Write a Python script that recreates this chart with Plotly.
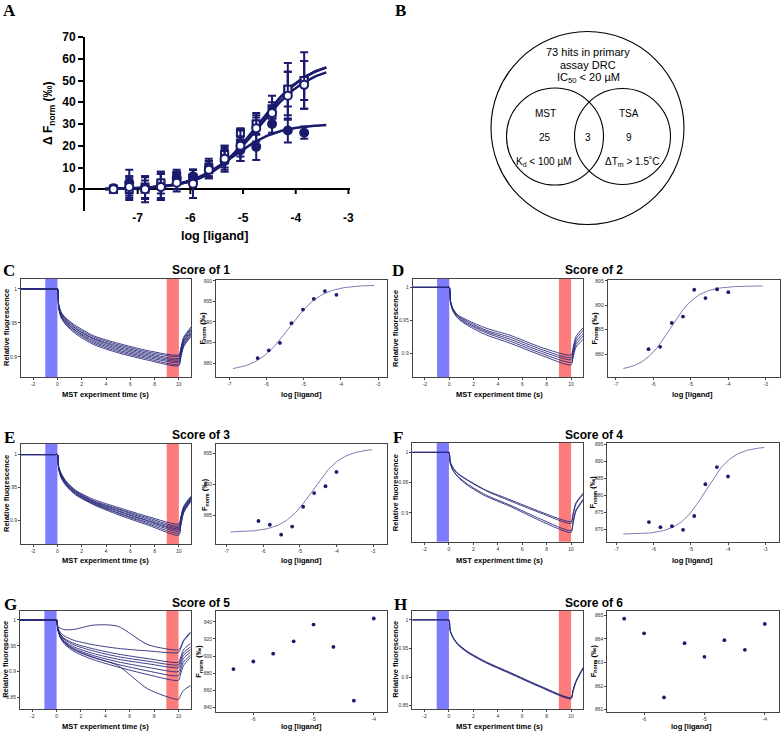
import numpy as np
import plotly.graph_objects as go

W, H = 781, 733
NAVY = "#1b1b6e"
TRACE = "#2a2a7c"
FITC = "#6c6cac"
BLUE_BAND = "#7c7cfc"
RED_BAND = "#fc7c7c"

# ---------------- Panel A data ----------------
A_LOGC = [-7.46, -7.16, -6.86, -6.56, -6.26, -5.95, -5.65, -5.35, -5.05, -4.75, -4.45, -4.15, -3.84]
A_FC = [0.5, 3.0, 0.5, 1.0, 5.0, 6.0, 9.0, 13.0, 18.0, 19.5, 30.0, 27.0, 26.0]
A_FC_ERR = [1.0, 6.0, 5.0, 6.0, 3.0, 3.0, 4.0, 5.0, 5.0, 6.0, 4.0, 5.5, 2.8]
A_OC = [0.0, 1.0, 0.0, 1.0, 3.0, 2.5, 9.0, 14.0, 20.0, 28.0, 35.0, 43.0, 48.0]
A_OC_ERR = [1.0, 5.0, 4.0, 6.0, 4.0, 6.5, 4.0, 5.0, 7.0, 6.0, 5.0, 11.0, 11.0]
A_FS = [0.0, 2.0, 0.0, 2.0, 6.0, 5.0, 10.0, 15.0, 21.0, 30.0, 37.0, 46.0, 50.0]
A_FS_ERR = [1.0, 4.0, 6.0, 6.0, 3.0, 4.0, 4.0, 5.0, 6.0, 5.0, 6.0, 12.0, 13.0]
A_OS = [0.0, 0.0, 1.0, 3.0, 4.0, 5.0, 9.0, 16.0, 26.0, 30.0, 34.0, 46.0, 50.0]
A_OS_ERR = [1.0, 5.0, 5.0, 5.0, 4.0, 4.0, 3.0, 4.0, 2.0, 3.0, 4.0, 8.0, 9.0]
# fitted dose-response parameters (bottom, top, logEC50, hill)
A_FIT_FC = (0.0, 30.0, -5.2, 1.0)
A_FIT_OC = (0.0, 57.5, -4.7, 0.9)
A_FIT_FS = (0.0, 60.0, -4.7, 0.9)
A_FIT_OS = (0.0, 59.5, -4.72, 0.92)
A_FIT_RANGE = (-7.62, -3.42)
A_XTICKS = [-7, -6, -5, -4, -3]
A_YTICKS = [0, 10, 20, 30, 40, 50, 60, 70]

# ---------------- Panel B data ----------------
B_TOTAL = 73
B_MST_ONLY = 25
B_BOTH = 3
B_TSA_ONLY = 9

# ---------------- MST traces (time in s, relative fluorescence) ----------------
MST_T = [-3, -0.2, 0, 0.1, 0.3, 0.7, 1.5, 3, 5, 7.5, 10, 10.15, 10.4, 11]
MST_XTICKS = [-2, 0, 2, 4, 6, 8, 10]

C_TRACES = [
    [1, 1, 1, 0.978, 0.966, 0.957, 0.946, 0.931, 0.920, 0.909, 0.903, 0.912, 0.929, 0.944],
    [1, 1, 1, 0.977, 0.965, 0.956, 0.944, 0.929, 0.918, 0.907, 0.901, 0.910, 0.927, 0.942],
    [1, 1, 1, 0.976, 0.964, 0.954, 0.942, 0.927, 0.916, 0.905, 0.898, 0.908, 0.925, 0.940],
    [1, 1, 1, 0.976, 0.963, 0.953, 0.941, 0.926, 0.914, 0.903, 0.896, 0.906, 0.923, 0.938],
    [1, 1, 1, 0.975, 0.961, 0.951, 0.939, 0.924, 0.912, 0.901, 0.894, 0.904, 0.921, 0.936],
    [1, 1, 1, 0.974, 0.960, 0.950, 0.938, 0.922, 0.910, 0.899, 0.892, 0.902, 0.919, 0.934],
    [1, 1, 1, 0.973, 0.959, 0.948, 0.936, 0.920, 0.908, 0.897, 0.889, 0.900, 0.917, 0.932],
    [1, 1, 1, 0.972, 0.958, 0.947, 0.934, 0.918, 0.906, 0.895, 0.887, 0.898, 0.915, 0.930],
]
D_TRACES = [
    [1, 1, 1, 0.980, 0.968, 0.958, 0.950, 0.938, 0.927, 0.909, 0.897, 0.907, 0.925, 0.939],
    [1, 1, 1, 0.979, 0.967, 0.957, 0.948, 0.935, 0.924, 0.906, 0.893, 0.903, 0.921, 0.935],
    [1, 1, 1, 0.978, 0.966, 0.956, 0.946, 0.933, 0.921, 0.903, 0.890, 0.900, 0.917, 0.930],
    [1, 1, 1, 0.978, 0.965, 0.954, 0.944, 0.931, 0.918, 0.900, 0.886, 0.896, 0.913, 0.926],
    [1, 1, 1, 0.977, 0.964, 0.953, 0.942, 0.928, 0.915, 0.897, 0.882, 0.892, 0.909, 0.921],
]
E_TRACES = [
    [1, 1, 1, 0.982, 0.972, 0.960, 0.946, 0.932, 0.920, 0.906, 0.895, 0.905, 0.922, 0.937],
    [1, 1, 1, 0.981, 0.971, 0.959, 0.945, 0.930, 0.918, 0.904, 0.892, 0.903, 0.920, 0.936],
    [1, 1, 1, 0.981, 0.970, 0.958, 0.944, 0.929, 0.917, 0.902, 0.890, 0.901, 0.919, 0.935],
    [1, 1, 1, 0.980, 0.969, 0.957, 0.943, 0.928, 0.915, 0.900, 0.888, 0.899, 0.918, 0.934],
    [1, 1, 1, 0.980, 0.968, 0.956, 0.942, 0.927, 0.914, 0.899, 0.886, 0.897, 0.916, 0.933],
    [1, 1, 1, 0.979, 0.967, 0.955, 0.941, 0.926, 0.912, 0.897, 0.884, 0.895, 0.915, 0.932],
    [1, 1, 1, 0.979, 0.966, 0.954, 0.940, 0.925, 0.911, 0.895, 0.881, 0.893, 0.913, 0.931],
    [1, 1, 1, 0.978, 0.965, 0.953, 0.939, 0.924, 0.909, 0.893, 0.878, 0.891, 0.912, 0.929],
]
F_TRACES = [
    [1, 1, 1, 0.985, 0.976, 0.966, 0.955, 0.938, 0.922, 0.902, 0.886, 0.898, 0.917, 0.933],
    [1, 1, 1, 0.985, 0.975, 0.965, 0.954, 0.937, 0.920, 0.900, 0.883, 0.895, 0.915, 0.931],
    [1, 1, 1, 0.983, 0.972, 0.961, 0.948, 0.930, 0.913, 0.890, 0.871, 0.884, 0.905, 0.923],
    [1, 1, 1, 0.983, 0.971, 0.960, 0.946, 0.928, 0.911, 0.887, 0.868, 0.881, 0.903, 0.921],
]
G_TRACES = [
    [1, 1, 1, 0.988, 0.984, 0.981, 0.982, 0.990, 0.988, 0.952, 0.942, 0.946, 0.960, 0.977],
    [1, 1, 1, 0.985, 0.976, 0.968, 0.960, 0.952, 0.945, 0.940, 0.937, 0.943, 0.958, 0.975],
    [1, 1, 1, 0.984, 0.973, 0.963, 0.954, 0.944, 0.934, 0.925, 0.918, 0.926, 0.942, 0.955],
    [1, 1, 1, 0.984, 0.972, 0.961, 0.951, 0.940, 0.929, 0.920, 0.913, 0.921, 0.936, 0.948],
    [1, 1, 1, 0.983, 0.970, 0.958, 0.947, 0.935, 0.924, 0.915, 0.908, 0.916, 0.931, 0.943],
    [1, 1, 1, 0.982, 0.968, 0.956, 0.944, 0.931, 0.919, 0.908, 0.900, 0.909, 0.925, 0.938],
    [1, 1, 1, 0.982, 0.967, 0.954, 0.941, 0.927, 0.914, 0.901, 0.892, 0.901, 0.918, 0.932],
    [1, 1, 1, 0.981, 0.966, 0.952, 0.938, 0.923, 0.909, 0.894, 0.883, 0.893, 0.911, 0.928],
    [1, 1, 1, 0.982, 0.968, 0.955, 0.942, 0.928, 0.912, 0.866, 0.846, 0.853, 0.863, 0.873],
]
H_TRACES = [
    [1, 1, 1, 0.982, 0.971, 0.959, 0.945, 0.927, 0.908, 0.884, 0.864, 0.876, 0.893, 0.917],
    [1, 1, 1, 0.981, 0.970, 0.958, 0.944, 0.926, 0.907, 0.883, 0.863, 0.875, 0.892, 0.916],
    [1, 1, 1, 0.981, 0.970, 0.957, 0.943, 0.925, 0.906, 0.882, 0.862, 0.874, 0.891, 0.915],
]

# ---------------- Dose-response (F_norm) ----------------
LOGC_C = [-6.24, -5.94, -5.64, -5.33, -5.02, -4.73, -4.43, -4.12]
FNORM_C = [881.2, 883.1, 884.9, 889.7, 893.0, 895.6, 897.5, 896.6]
FIT_C = (878.0, 899.0, -5.4, 1.0)
FITRANGE_C = (-6.9, -3.1)

LOGC_D = [-6.13, -5.82, -5.51, -5.21, -4.91, -4.61, -4.30, -4.00]
FNORM_D = [881.0, 881.5, 886.4, 887.7, 893.2, 891.5, 893.3, 892.7]
FIT_D = (876.5, 894.0, -5.55, 1.2)
FITRANGE_D = (-6.8, -3.08)

LOGC_E = [-6.13, -5.82, -5.51, -5.21, -4.91, -4.61, -4.30, -4.00]
FNORM_E = [884.1, 883.5, 881.9, 883.2, 886.4, 888.6, 889.7, 892.0]
FIT_E = (882.3, 895.8, -4.65, 1.1)
FITRANGE_E = (-6.89, -3.03)

LOGC_F = [-6.13, -5.82, -5.51, -5.21, -4.91, -4.61, -4.30, -4.00]
FNORM_F = [872.1, 870.6, 870.9, 869.8, 873.9, 883.3, 888.4, 885.6]
FIT_F = (868.5, 894.5, -4.6, 1.2)
FITRANGE_F = (-6.82, -3.02)

LOGC_G = [-6.33, -6.0, -5.67, -5.33, -5.0, -4.67, -4.33, -4.0]
FNORM_G = [884.7, 893.6, 902.7, 917.2, 936.8, 910.6, 847.8, 943.9]

LOGC_H = [-6.33, -6.0, -5.67, -5.33, -5.0, -4.67, -4.33, -4.0]
FNORM_H = [864.86, 864.24, 861.52, 863.82, 863.24, 863.95, 863.54, 864.64]


def hill(x, p):
    b, t, ec, h = p
    return b + (t - b) / (1.0 + 10.0 ** ((ec - x) * h))


def dx(l, r):
    return [l / W, r / W]


def dy(t, b):
    return [1 - b / H, 1 - t / H]


def px(x):
    return x / W


def py(y):
    return 1 - y / H


def hyph(vals):
    return [("-" + f"{abs(v):g}") if v < 0 else f"{v:g}" for v in vals]


fig = go.Figure()
layout = dict(width=W, height=H, margin=dict(l=0, r=0, t=0, b=0, pad=0, autoexpand=False),
              template="none",
              paper_bgcolor="white", plot_bgcolor="white", showlegend=False,
              font=dict(family="Liberation Sans", color="black"))
shapes = []
annotations = []


def ann(x, y, text, size, angle=0, color="black", family="Liberation Sans", xanchor="center"):
    annotations.append(dict(x=px(x), y=py(y), xref="paper", yref="paper", text=text,
                            showarrow=False, textangle=angle, xanchor=xanchor, yanchor="middle",
                            font=dict(size=size, color=color, family=family)))


# ---------------- Panel A ----------------
layout["xaxis"] = dict(domain=dx(85, 350), range=[-8, -2.97], anchor="y", tickvals=A_XTICKS,
                       ticktext=hyph(A_XTICKS),
                       showline=False, ticks="", showgrid=False, zeroline=False, automargin=False,
                       tickfont=dict(size=12, family="Liberation Sans", color="black", weight="bold"),
                       ticklabelstandoff=-2)
layout["yaxis"] = dict(domain=dy(37, 211), range=[-10, 70], anchor="x", tickvals=A_YTICKS,
                       showline=True, linecolor="black", linewidth=2, ticks="outside", ticklen=5,
                       tickwidth=2, tickcolor="black", showgrid=False, zeroline=True, automargin=False,
                       zerolinecolor="black", zerolinewidth=2,
                       tickfont=dict(size=12, family="Liberation Sans", color="black", weight="bold"))
for v in A_XTICKS:
    shapes.append(dict(type="line", xref="x", yref="y", x0=v, x1=v, y0=0, y1=-2.2,
                       line=dict(color="black", width=2)))

xa = np.linspace(A_FIT_RANGE[0], A_FIT_RANGE[1], 150)
for p in [A_FIT_FC, A_FIT_OC, A_FIT_FS, A_FIT_OS]:
    fig.add_trace(go.Scatter(x=xa, y=hill(xa, p), mode="lines", xaxis="x", yaxis="y",
                             line=dict(color=NAVY, width=2.5), hoverinfo="skip"))
series_A = [
    (A_FS, A_FS_ERR, "square", NAVY),
    (A_OS, A_OS_ERR, "square", "white"),
    (A_FC, A_FC_ERR, "circle", NAVY),
    (A_OC, A_OC_ERR, "circle", "white"),
]
for vals, err, sym, fill in series_A:
    fig.add_trace(go.Scatter(x=A_LOGC, y=vals, mode="markers", xaxis="x", yaxis="y",
                             marker=dict(symbol=sym, size=7 if sym == "square" else 8, color=fill,
                                         line=dict(color=NAVY, width=2)),
                             error_y=dict(type="data", array=err, color=NAVY, thickness=2, width=4)))
ann(9, 11, "<b>A</b>", 17, family="Liberation Serif")
ann(49, 113, "<b>Δ F<sub>norm</sub> (‰)</b>", 12, angle=-90)
ann(215, 236, "<b>log [ligand]</b>", 12.5)

# ---------------- Panel B (Venn) ----------------
ann(400, 11, "<b>B</b>", 17, family="Liberation Serif")
for cx, cy, r in [(587.5, 128, 96.5), (555, 136.5, 48.5), (622.5, 136.5, 48)]:
    shapes.append(dict(type="circle", xref="paper", yref="paper",
                       x0=px(cx - r), x1=px(cx + r), y0=py(cy + r), y1=py(cy - r),
                       line=dict(color="black", width=1.1)))
ann(588, 52, f"{B_TOTAL} hits in primary", 11)
ann(588, 65, "assay DRC", 11)
ann(588, 78, "IC<sub>50</sub> &lt; 20 µM", 11)
ann(545, 114, "MST", 10)
ann(545, 137, str(B_MST_ONLY), 10)
ann(544, 162, "K<sub>d</sub> &lt; 100 µM", 10)
ann(588, 137, str(B_BOTH), 10)
ann(629, 114, "TSA", 10)
ann(629, 137, str(B_TSA_ONLY), 10)
ann(632, 162, "ΔT<sub>m</sub> &gt; 1.5˚C", 10)

# ---------------- Small panels ----------------
small_ax = dict(showline=True, linecolor="#444", linewidth=1, mirror=True, ticks="outside",
                ticklen=2, tickwidth=0.6, tickcolor="#444", showgrid=False, zeroline=False,
                automargin=False,
                tickfont=dict(size=5, color="#333", family="Liberation Sans"))

panels = [
    dict(L="C", score=1, traces=C_TRACES, lrect=(21, 279, 191, 377), lyr=[0.8704, 1.0146], lyt=[0.9, 0.95, 1],
         rrect=(216, 280, 387, 377), rxr=[-7.36, -2.76], ryr=[876.6, 900.2], ryt=[880, 885, 890, 895, 900],
         rxt=[-7, -6, -5, -4, -3], logc=LOGC_C, fn=FNORM_C, fit=FIT_C, fr=FITRANGE_C,
         lp=(9, 271), tp=(201, 270), ylx=(6, 203), xty=394, xtx=(105, 301.7)),
    dict(L="D", score=2, traces=D_TRACES, lrect=(412.7, 279, 583.3, 377), lyr=[0.8636, 1.0127], lyt=[0.9, 0.95, 1],
         rrect=(607.7, 280, 780, 377), rxr=[-7.22, -2.62], ryr=[875.3, 895.2], ryt=[880, 885, 890, 895],
         rxt=[-7, -6, -5, -4, -3], logc=LOGC_D, fn=FNORM_D, fit=FIT_D, fr=FITRANGE_D,
         lp=(398, 271), tp=(594, 270), ylx=(395, 595), xty=394, xtx=(499, 692.3)),
    dict(L="E", score=3, traces=E_TRACES, lrect=(21, 444, 191, 544), lyr=[0.8647, 1.016], lyt=[0.9, 0.95, 1],
         rrect=(216, 444, 387, 544), rxr=[-7.29, -2.62], ryr=[880.4, 896.5], ryt=[885, 890, 895],
         rxt=[-7, -6, -5, -4, -3], logc=LOGC_E, fn=FNORM_E, fit=FIT_E, fr=FITRANGE_E,
         lp=(9, 437), tp=(201, 435), ylx=(6, 205), xty=560, xtx=(105.3, 301)),
    dict(L="F", score=4, traces=F_TRACES, lrect=(412.3, 442.7, 583.3, 541.7), lyr=[0.8526, 1.016], lyt=[0.9, 0.95, 1],
         rrect=(607.3, 442.7, 779.3, 541.7), rxr=[-7.25, -2.62], ryr=[866.3, 895.6],
         ryt=[870, 875, 880, 885, 890, 895],
         rxt=[-7, -6, -5, -4, -3], logc=LOGC_F, fn=FNORM_F, fit=FIT_F, fr=FITRANGE_F,
         lp=(398, 437), tp=(594, 435), ylx=(395, 593.3), xty=560, xtx=(499, 692.3)),
    dict(L="G", score=5, traces=G_TRACES, lrect=(20, 610.7, 190.7, 709), lyr=[0.8273, 1.018],
         lyt=[0.85, 0.9, 0.95, 1],
         rrect=(216, 610.7, 387, 712), rxr=[-6.62, -3.78], ryr=[834.5, 953], ryt=[840, 860, 880, 900, 920, 940],
         rxt=[-6, -5, -4], logc=LOGC_G, fn=FNORM_G, fit=None, fr=None,
         lp=(10, 604), tp=(201, 603), ylx=(6, 199.3), xty=726.7, xtx=(105, 301.2)),
    dict(L="H", score=6, traces=H_TRACES, lrect=(412.3, 610.7, 583.3, 709), lyr=[0.844, 1.016],
         lyt=[0.85, 0.9, 0.95, 1],
         rrect=(607.3, 610.7, 779.3, 712), rxr=[-6.61, -3.76], ryr=[860.9, 865.2], ryt=[861, 862, 863, 864, 865],
         rxt=[-6, -5, -4], logc=LOGC_H, fn=FNORM_H, fit=None, fr=None,
         lp=(400, 604), tp=(594, 603), ylx=(396, 594), xty=726.7, xtx=(499, 691.7)),
]

n = 2
for P in panels:
    nl, nr = n, n + 1
    l, t, r, b = P["lrect"]
    layout[f"xaxis{nl}"] = dict(domain=dx(l, r), range=[-3, 11], anchor=f"y{nl}", tickvals=MST_XTICKS,
                                ticktext=hyph(MST_XTICKS), **small_ax)
    layout[f"yaxis{nl}"] = dict(domain=dy(t, b), range=P["lyr"], anchor=f"x{nl}", tickvals=P["lyt"], **small_ax)
    shapes.append(dict(type="rect", xref=f"x{nl}", yref=f"y{nl} domain", x0=-1, x1=0, y0=0, y1=1,
                       fillcolor=BLUE_BAND, line=dict(width=0), layer="below"))
    shapes.append(dict(type="rect", xref=f"x{nl}", yref=f"y{nl} domain", x0=9, x1=10, y0=0, y1=1,
                       fillcolor=RED_BAND, line=dict(width=0), layer="below"))
    for tr in P["traces"]:
        fig.add_trace(go.Scatter(x=MST_T, y=tr, mode="lines", xaxis=f"x{nl}", yaxis=f"y{nl}",
                                 line=dict(color=TRACE, width=0.9, shape="spline", smoothing=0.7),
                                 hoverinfo="skip"))
    l, t, r, b = P["rrect"]
    layout[f"xaxis{nr}"] = dict(domain=dx(l, r), range=P["rxr"], anchor=f"y{nr}", tickvals=P["rxt"],
                                ticktext=hyph(P["rxt"]), **small_ax)
    layout[f"yaxis{nr}"] = dict(domain=dy(t, b), range=P["ryr"], anchor=f"x{nr}", tickvals=P["ryt"], **small_ax)
    if P["fit"] is not None:
        xf = np.linspace(P["fr"][0], P["fr"][1], 120)
        fig.add_trace(go.Scatter(x=xf, y=hill(xf, P["fit"]), mode="lines", xaxis=f"x{nr}", yaxis=f"y{nr}",
                                 line=dict(color=FITC, width=0.9), hoverinfo="skip"))
    fig.add_trace(go.Scatter(x=P["logc"], y=P["fn"], mode="markers", xaxis=f"x{nr}", yaxis=f"y{nr}",
                             marker=dict(color=NAVY, size=3.8)))
    ann(P["lp"][0], P["lp"][1], f"<b>{P['L']}</b>", 17, family="Liberation Serif")
    ann(P["tp"][0], P["tp"][1], f"<b>Score of {P['score']}</b>", 12)
    lt, lb = P["lrect"][1], P["lrect"][3]
    ann(P["ylx"][0], (lt + lb) / 2, "<b>Relative fluorescence</b>", 7.5, angle=-90)
    rt, rb = P["rrect"][1], P["rrect"][3]
    ann(P["ylx"][1], (rt + rb) / 2, "<b>F<sub>norm</sub> (‰)</b>", 7.5, angle=-90)
    ann(P["xtx"][0], P["xty"], "<b>MST experiment time (s)</b>", 7.5)
    ann(P["xtx"][1], P["xty"], "<b>log [ligand]</b>", 7.5)
    n += 2

layout["shapes"] = shapes
layout["annotations"] = annotations
fig.update_layout(**layout)
fig.write_html("out.html", config={"displayModeBar": False},
               post_script="document.body.style.margin='0';document.body.style.overflow='hidden';")
